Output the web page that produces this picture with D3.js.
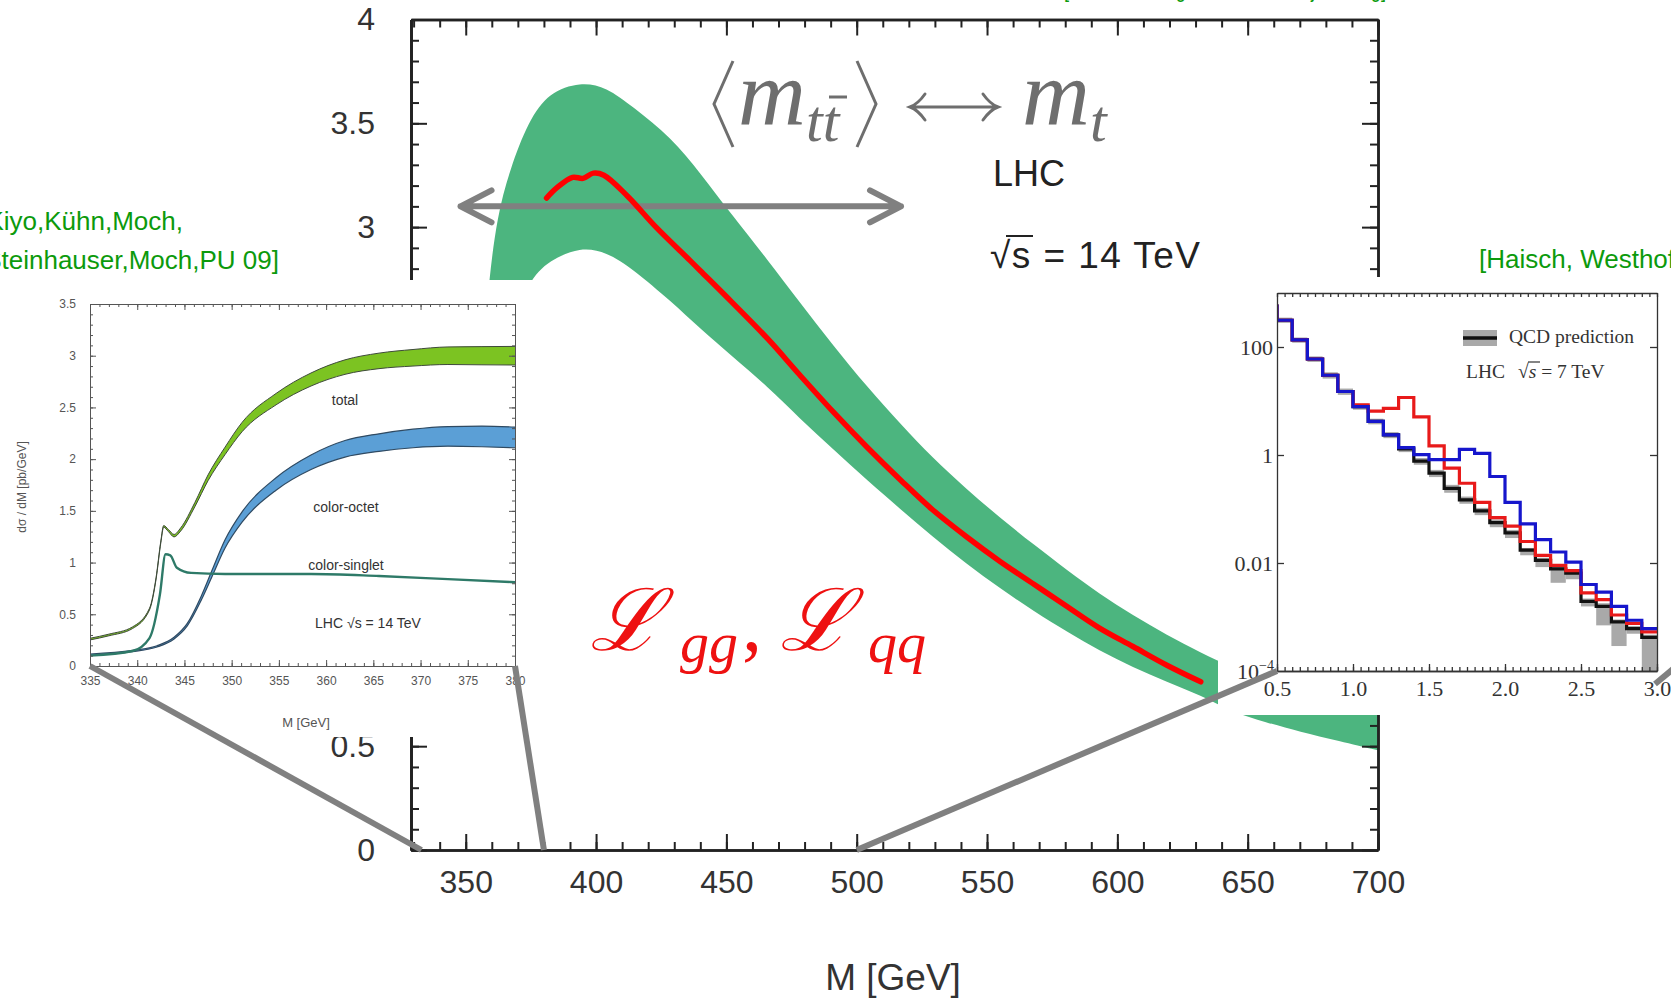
<!DOCTYPE html>
<html>
<head>
<meta charset="utf-8">
<script src="https://cdn.jsdelivr.net/npm/d3@7"></script>
<style>
  body { margin: 0; background: #fff; }
  svg { display: block; }
  .ax path, .ax line { stroke: #222; }
  .ax text { fill: #333; font-family: "Liberation Sans", Arial, sans-serif; }
  .ia path, .ia line { stroke: #555; stroke-width: 1; }
  .ia text { fill: #555; font-family: "Liberation Sans", Arial, sans-serif; font-size: 12px; }
  .ra path, .ra line { stroke: #333; stroke-width: 1.3; }
  .ra text { fill: #333; font-family: "Liberation Serif", "Times New Roman", serif; font-size: 22px; }
</style>
</head>
<body>
<script>
// ---------------- main plot: M [GeV] vs dsigma/dM band ----------------
var bandM  = [357, 359, 362, 367, 374, 382, 394, 404, 414, 429, 440, 452, 466, 478, 491, 504, 517, 529, 542, 555, 568, 581, 593, 606, 619, 632, 644, 657, 670, 685, 700];
var bandHi = [2.45, 2.75, 3.05, 3.28, 3.51, 3.65, 3.70, 3.675, 3.58, 3.43, 3.26, 3.06, 2.84, 2.64, 2.43, 2.23, 2.05, 1.89, 1.74, 1.60, 1.47, 1.345, 1.235, 1.13, 1.035, 0.95, 0.88, 0.815, 0.76, 0.715, 0.67];
var bandLo = [1.90, 2.10, 2.30, 2.50, 2.74, 2.84, 2.905, 2.88, 2.80, 2.64, 2.51, 2.38, 2.23, 2.08, 1.93, 1.78, 1.64, 1.51, 1.38, 1.26, 1.15, 1.05, 0.96, 0.88, 0.81, 0.745, 0.665, 0.615, 0.57, 0.525, 0.48];

var redM = [381, 385, 391, 395, 399, 403, 412, 423, 436, 440, 452, 466, 478, 491, 504, 517, 529, 542, 555, 568, 581, 593, 606, 619, 632];
var redV = [3.14, 3.19, 3.24, 3.235, 3.26, 3.25, 3.15, 3.00, 2.84, 2.79, 2.64, 2.46, 2.29, 2.11, 1.94, 1.78, 1.64, 1.51, 1.39, 1.28, 1.17, 1.07, 0.98, 0.89, 0.81];

var mainXMajor = [350, 400, 450, 500, 550, 600, 650, 700];
var mainYMajor = [0, 0.5, 1, 1.5, 2, 2.5, 3, 3.5, 4];
var mainYLabels = [0, 0.5, 3, 3.5, 4];   // the others sit under the left inset

// ---------------- left inset: threshold region ----------------
var totM  = [335, 337, 339.5, 341.3, 342.0, 342.5, 342.8, 343.3, 343.9, 344.6, 346.1, 347.5, 349.3, 351.1, 354.7, 358.4, 362, 365.6, 369.2, 372.9, 376.5, 380];
var totV  = [0.26, 0.30, 0.37, 0.55, 0.85, 1.20, 1.35, 1.31, 1.26, 1.32, 1.56, 1.82, 2.08, 2.31, 2.58, 2.77, 2.89, 2.95, 2.98, 3.00, 3.00, 3.00];
var totHW = [0.008, 0.008, 0.008, 0.008, 0.008, 0.008, 0.008, 0.01, 0.012, 0.015, 0.02, 0.028, 0.036, 0.045, 0.055, 0.063, 0.07, 0.075, 0.08, 0.085, 0.088, 0.09];

var octM  = [335, 339.5, 342.1, 343.9, 345.3, 346.8, 347.9, 349.3, 351.1, 354.7, 358.4, 362, 365.6, 369.2, 372.9, 376.5, 380];
var octV  = [0.11, 0.145, 0.19, 0.27, 0.40, 0.66, 0.89, 1.18, 1.44, 1.76, 1.97, 2.10, 2.16, 2.20, 2.22, 2.22, 2.21];
var octHW = [0.006, 0.006, 0.006, 0.008, 0.012, 0.02, 0.03, 0.04, 0.05, 0.06, 0.07, 0.08, 0.085, 0.09, 0.095, 0.1, 0.1];

var sinM = [335, 339.5, 341.3, 342.4, 343, 343.5, 344.2, 345.7, 349.3, 358.4, 365.6, 372.9, 380];
var sinV = [0.10, 0.145, 0.27, 0.69, 1.08, 1.07, 0.95, 0.90, 0.89, 0.89, 0.87, 0.84, 0.81];

// ---------------- right inset: log histogram ----------------
var binLo  = [0.4, 0.5, 0.6, 0.7, 0.8, 0.9, 1.0, 1.1, 1.2, 1.3, 1.4, 1.5, 1.6, 1.7, 1.8, 1.9, 2.0, 2.1, 2.2, 2.3, 2.4, 2.5, 2.6, 2.7, 2.8, 2.9, 3.0];
var blueH  = [575, 313, 135, 60, 30, 15, 7.9, 4.2, 2.35, 1.37, 1.02, 0.82, 0.82, 1.27, 1.07, 0.40, 0.133, 0.053, 0.027, 0.016, 0.0104, 0.0040, 0.0029, 0.00157, 0.00087, 0.00061, 0.00061];
var redH   = [575, 313, 135, 60, 30, 15, 8.5, 6.5, 7.3, 11.6, 5.1, 1.47, 0.57, 0.30, 0.133, 0.069, 0.048, 0.025, 0.0139, 0.0090, 0.0072, 0.0028, 0.0021, 0.00109, 0.00076, 0.00053, 0.00053];
var blackH = [575, 313, 135, 60, 30, 15, 7.9, 4.2, 2.35, 1.3, 0.77, 0.46, 0.24, 0.148, 0.092, 0.056, 0.036, 0.0173, 0.0112, 0.0078, 0.0065, 0.00195, 0.00157, 0.00081, 0.00061, 0.00042, 0.00042];
var grayLo = [500, 280, 120, 53, 26, 13, 6.9, 3.7, 2.05, 1.13, 0.66, 0.39, 0.20, 0.125, 0.077, 0.046, 0.029, 0.0139, 0.0084, 0.0043, 0.0050, 0.00157, 0.0007, 0.00029, 0.00049, 0.0001, 0.0001];
var grayHi = [650, 350, 150, 67, 34, 17, 8.9, 4.7, 2.65, 1.47, 0.88, 0.53, 0.28, 0.17, 0.105, 0.064, 0.041, 0.019, 0.0125, 0.0085, 0.0072, 0.0022, 0.0018, 0.0009, 0.00068, 0.00047, 0.00047];
var binW = 0.1;

var W = 1671, H = 999;
var svg = d3.select("body").append("svg").attr("width", W).attr("height", H);
var defs = svg.append("defs");
var SANS = "'Liberation Sans', Arial, sans-serif";
var SERIF = "'Liberation Serif', 'Times New Roman', serif";

// =========================== main plot ===========================
var x = d3.scaleLinear().domain([329, 700]).range([411, 1378]);
var y = d3.scaleLinear().domain([0, 4]).range([850, 19.5]);

defs.append("clipPath").attr("id", "clipMain").append("rect")
    .attr("x", x.range()[0]).attr("y", y.range()[1])
    .attr("width", x.range()[1] - x.range()[0]).attr("height", y.range()[0] - y.range()[1]);

var bandData = bandM.map(function(m, i) { return {m: m, lo: bandLo[i], hi: bandHi[i]}; });
svg.append("path")
    .datum(bandData)
    .attr("clip-path", "url(#clipMain)")
    .attr("fill", "#4cb57f")
    .attr("d", d3.area()
        .x(function(d) { return x(d.m); })
        .y0(function(d) { return y(d.lo); })
        .y1(function(d) { return y(d.hi); })
        .curve(d3.curveBasis));

// axes (ticks point inward)
var xMinor = d3.range(330, 701, 10), yMinor = d3.range(0, 4.001, 0.1);
svg.append("g").attr("class", "ax").attr("transform", "translate(0," + y(0) + ")")
    .call(d3.axisBottom(x).tickValues(xMinor).tickSize(-8).tickSizeOuter(0).tickFormat(""));
svg.append("g").attr("class", "ax xlab").attr("transform", "translate(0," + y(0) + ")")
    .call(d3.axisBottom(x).tickValues(mainXMajor).tickSizeInner(-16).tickSizeOuter(0).tickPadding(20).tickFormat(d3.format("d")));
svg.append("g").attr("class", "ax").attr("transform", "translate(0," + y(4) + ")")
    .call(d3.axisTop(x).tickValues(xMinor).tickSize(-8).tickSizeOuter(0).tickFormat(""));
svg.append("g").attr("class", "ax").attr("transform", "translate(0," + y(4) + ")")
    .call(d3.axisTop(x).tickValues(mainXMajor).tickSize(-16).tickSizeOuter(0).tickFormat(""));
svg.append("g").attr("class", "ax").attr("transform", "translate(" + x(329) + ",0)")
    .call(d3.axisLeft(y).tickValues(yMinor).tickSize(-8).tickSizeOuter(0).tickFormat(""));
svg.append("g").attr("class", "ax").attr("transform", "translate(" + x(329) + ",0)")
    .call(d3.axisLeft(y).tickValues(mainYMajor).tickSize(-16).tickSizeOuter(0).tickFormat(""));
svg.append("g").attr("class", "ax ylab").attr("transform", "translate(" + x(329) + ",0)")
    .call(d3.axisLeft(y).tickValues(mainYLabels).tickSize(0).tickPadding(36).tickFormat(function(d) { return String(d); }));
svg.append("g").attr("class", "ax").attr("transform", "translate(" + x(700) + ",0)")
    .call(d3.axisRight(y).tickValues(yMinor).tickSize(-8).tickSizeOuter(0).tickFormat(""));
svg.append("g").attr("class", "ax").attr("transform", "translate(" + x(700) + ",0)")
    .call(d3.axisRight(y).tickValues(mainYMajor).tickSize(-16).tickSizeOuter(0).tickFormat(""));
svg.selectAll(".ax path").attr("stroke-width", 2.5);
svg.selectAll(".ax line").attr("stroke-width", 2);
svg.selectAll(".xlab text").attr("font-size", 32);
svg.selectAll(".ylab text").attr("font-size", 32);

svg.append("text").attr("x", 893).attr("y", 990).attr("text-anchor", "middle")
    .attr("font-family", SANS).attr("font-size", 37).attr("fill", "#333").text("M [GeV]");

// formula  <m_tt> <-> m_t
var fcol = "#6e6e6e";
svg.append("polyline").attr("points", "733,61 714,104 733,147")
    .attr("fill", "none").attr("stroke", fcol).attr("stroke-width", 3);
svg.append("polyline").attr("points", "857,61 876,104 857,147")
    .attr("fill", "none").attr("stroke", fcol).attr("stroke-width", 3);
svg.append("text").attr("x", 738).attr("y", 125).attr("font-family", SERIF).attr("font-style", "italic")
    .attr("font-size", 94).attr("fill", fcol).text("m");
svg.append("text").attr("x", 806).attr("y", 141).attr("font-family", SERIF).attr("font-style", "italic")
    .attr("font-size", 60).attr("fill", fcol).text("tt");
svg.append("line").attr("x1", 829).attr("x2", 847).attr("y1", 97).attr("y2", 97)
    .attr("stroke", fcol).attr("stroke-width", 3);
svg.append("path")
    .attr("d", "M910,107 L998,107 M925,94 Q918,104 910,107 Q918,110 925,120 M983,94 Q990,104 998,107 Q990,110 983,120")
    .attr("fill", "none").attr("stroke", fcol).attr("stroke-width", 3).attr("stroke-linecap", "round");
svg.append("text").attr("x", 1022).attr("y", 125).attr("font-family", SERIF).attr("font-style", "italic")
    .attr("font-size", 94).attr("fill", fcol).text("m");
svg.append("text").attr("x", 1090).attr("y", 141).attr("font-family", SERIF).attr("font-style", "italic")
    .attr("font-size", 60).attr("fill", fcol).text("t");

svg.append("text").attr("x", 993).attr("y", 186).attr("font-family", SANS).attr("font-size", 36)
    .attr("fill", "#222").text("LHC");
svg.append("text").attr("x", 990).attr("y", 268).attr("font-family", SANS).attr("font-size", 37)
    .attr("textLength", 210).attr("lengthAdjust", "spacing")
    .attr("fill", "#222").text("\u221As = 14 TeV");
svg.append("line").attr("x1", 1006).attr("x2", 1033).attr("y1", 236).attr("y2", 236)
    .attr("stroke", "#222").attr("stroke-width", 2);

// gray double arrow
var arrowFrom = 348, arrowTo = 517, arrowY = 3.1;
svg.append("path")
    .attr("d", "M" + x(arrowFrom) + "," + y(arrowY) + " L" + x(arrowTo) + "," + y(arrowY)
        + " M" + (x(arrowFrom) + 31) + "," + (y(arrowY) - 16) + " L" + x(arrowFrom) + "," + y(arrowY) + " L" + (x(arrowFrom) + 31) + "," + (y(arrowY) + 16)
        + " M" + (x(arrowTo) - 31) + "," + (y(arrowY) - 16) + " L" + x(arrowTo) + "," + y(arrowY) + " L" + (x(arrowTo) - 31) + "," + (y(arrowY) + 16))
    .attr("fill", "none").attr("stroke", "#808080").attr("stroke-width", 6)
    .attr("stroke-linecap", "round").attr("stroke-linejoin", "round");

// red central line
svg.append("path")
    .datum(redM.map(function(m, i) { return [m, redV[i]]; }))
    .attr("fill", "none").attr("stroke", "#ff0000").attr("stroke-width", 5.5).attr("stroke-linecap", "round")
    .attr("d", d3.line().x(function(d) { return x(d[0]); }).y(function(d) { return y(d[1]); }).curve(d3.curveCatmullRom.alpha(0.5)));

// =========================== left inset ===========================
svg.append("rect").attr("x", 0).attr("y", 280).attr("width", 535).attr("height", 457).attr("fill", "#fff");

var xi = d3.scaleLinear().domain([335, 380]).range([90, 515]);
var yi = d3.scaleLinear().domain([0, 3.5]).range([666, 304]);

function bandPath(ms, vs, hw) {
    return d3.area().x(function(d, i) { return xi(ms[i]); })
        .y0(function(d, i) { return yi(vs[i] - hw[i]); })
        .y1(function(d, i) { return yi(vs[i] + hw[i]); })
        .curve(d3.curveMonotoneX)(ms);
}
function edgePath(ms, vs, hw, s) {
    return d3.line().x(function(d, i) { return xi(ms[i]); })
        .y(function(d, i) { return yi(vs[i] + s * hw[i]); })
        .curve(d3.curveMonotoneX)(ms);
}
svg.append("path").attr("d", bandPath(totM, totV, totHW)).attr("fill", "#7cc322");
svg.append("path").attr("d", edgePath(totM, totV, totHW, 1)).attr("fill", "none").attr("stroke", "#3e4a3a").attr("stroke-width", 1);
svg.append("path").attr("d", edgePath(totM, totV, totHW, -1)).attr("fill", "none").attr("stroke", "#3e4a3a").attr("stroke-width", 1);
svg.append("path").attr("d", bandPath(octM, octV, octHW)).attr("fill", "#5b9fd6");
svg.append("path").attr("d", edgePath(octM, octV, octHW, 1)).attr("fill", "none").attr("stroke", "#2f4a62").attr("stroke-width", 1.2);
svg.append("path").attr("d", edgePath(octM, octV, octHW, -1)).attr("fill", "none").attr("stroke", "#2f4a62").attr("stroke-width", 1.2);
svg.append("path")
    .datum(sinM.map(function(m, i) { return [m, sinV[i]]; }))
    .attr("fill", "none").attr("stroke", "#2e7a68").attr("stroke-width", 2.4)
    .attr("d", d3.line().x(function(d) { return xi(d[0]); }).y(function(d) { return yi(d[1]); }).curve(d3.curveMonotoneX));

var xiMinor = d3.range(335, 380.01, 1), xiMajor = d3.range(335, 380.01, 5);
var yiMinor = d3.range(0, 3.501, 0.1), yiMajor = d3.range(0, 3.501, 0.5);
svg.append("g").attr("class", "ia").attr("transform", "translate(0,666)")
    .call(d3.axisBottom(xi).tickValues(xiMinor).tickSize(-3).tickSizeOuter(0).tickFormat(""));
svg.append("g").attr("class", "ia").attr("transform", "translate(0,666)")
    .call(d3.axisBottom(xi).tickValues(xiMajor).tickSizeInner(-6).tickSizeOuter(0).tickPadding(10).tickFormat(d3.format("d")));
svg.append("g").attr("class", "ia").attr("transform", "translate(0,304)")
    .call(d3.axisTop(xi).tickValues(xiMinor).tickSize(-3).tickSizeOuter(0).tickFormat(""));
svg.append("g").attr("class", "ia").attr("transform", "translate(0,304)")
    .call(d3.axisTop(xi).tickValues(xiMajor).tickSize(-6).tickSizeOuter(0).tickFormat(""));
svg.append("g").attr("class", "ia").attr("transform", "translate(90,0)")
    .call(d3.axisLeft(yi).tickValues(yiMinor).tickSize(-3).tickSizeOuter(0).tickFormat(""));
svg.append("g").attr("class", "ia").attr("transform", "translate(90,0)")
    .call(d3.axisLeft(yi).tickValues(yiMajor).tickSizeInner(-6).tickSizeOuter(0).tickPadding(14).tickFormat(function(d) { return String(d); }));
svg.append("g").attr("class", "ia").attr("transform", "translate(515,0)")
    .call(d3.axisRight(yi).tickValues(yiMinor).tickSize(-3).tickSizeOuter(0).tickFormat(""));
svg.append("g").attr("class", "ia").attr("transform", "translate(515,0)")
    .call(d3.axisRight(yi).tickValues(yiMajor).tickSize(-6).tickSizeOuter(0).tickFormat(""));
svg.selectAll(".ia path").attr("stroke-width", 1.6);

var insetText = [["total", 345, 405], ["color-octet", 346, 512], ["color-singlet", 346, 570], ["LHC \u221As = 14 TeV", 368, 628]];
insetText.forEach(function(t) {
    svg.append("text").attr("x", t[1]).attr("y", t[2]).attr("text-anchor", "middle")
        .attr("font-family", SANS).attr("font-size", 14).attr("fill", "#333").text(t[0]);
});
svg.append("text").attr("x", 306).attr("y", 727).attr("text-anchor", "middle")
    .attr("font-family", SANS).attr("font-size", 13).attr("fill", "#555").text("M [GeV]");
svg.append("text").attr("transform", "translate(26,487) rotate(-90)").attr("text-anchor", "middle")
    .attr("font-family", SANS).attr("font-size", 12).attr("fill", "#555").text("d\u03C3 / dM [pb/GeV]");

// =========================== right inset ===========================
svg.append("rect").attr("x", 1218).attr("y", 277).attr("width", 453).attr("height", 438).attr("fill", "#fff");

var xr = d3.scaleLinear().domain([0.5, 3.0]).range([1277, 1657]);
var yr = d3.scaleLog().domain([1e-4, 1e3]).range([671, 293]);

defs.append("clipPath").attr("id", "clipR").append("rect")
    .attr("x", 1277).attr("y", 293).attr("width", 380).attr("height", 378);

var gR = svg.append("g").attr("clip-path", "url(#clipR)");
binLo.forEach(function(b, i) {
    gR.append("rect").attr("x", xr(b)).attr("width", xr(b + binW) - xr(b))
        .attr("y", yr(grayHi[i])).attr("height", yr(grayLo[i]) - yr(grayHi[i]))
        .attr("fill", "#a9a9a9");
});
var step = d3.line().x(function(d) { return xr(d[0]); }).y(function(d) { return yr(d[1]); }).curve(d3.curveStepAfter);
[[blackH, "#111"], [redH, "#e81a1a"], [blueH, "#1616cc"]].forEach(function(s) {
    gR.append("path")
        .datum(binLo.map(function(b, i) { return [b, s[0][i]]; }))
        .attr("fill", "none").attr("stroke", s[1]).attr("stroke-width", 3.2)
        .attr("d", step);
});

svg.append("g").attr("class", "ra").attr("transform", "translate(0,671)")
    .call(d3.axisBottom(xr).tickValues(d3.range(0.5, 3.001, 0.05)).tickSize(-4).tickSizeOuter(0).tickFormat(""));
svg.append("g").attr("class", "ra").attr("transform", "translate(0,671)")
    .call(d3.axisBottom(xr).tickValues([0.5, 1.0, 1.5, 2.0, 2.5, 3.0]).tickSizeInner(-7).tickSizeOuter(0).tickPadding(9).tickFormat(d3.format(".1f")));
svg.append("g").attr("class", "ra").attr("transform", "translate(0,293)")
    .call(d3.axisTop(xr).tickValues(d3.range(0.5, 3.001, 0.05)).tickSize(-4).tickSizeOuter(0).tickFormat(""));
svg.append("g").attr("class", "ra").attr("transform", "translate(1277,0)")
    .call(d3.axisLeft(yr).tickValues([0.01, 1, 100]).tickSizeInner(-7).tickSizeOuter(0).tickPadding(4).tickFormat(d3.format("~g")));
svg.append("g").attr("class", "ra").attr("transform", "translate(1657,0)")
    .call(d3.axisRight(yr).tickValues([0.01, 1, 100]).tickSize(-7).tickSizeOuter(0).tickFormat(""));
var e4 = svg.append("text").attr("x", 1274).attr("y", 679).attr("text-anchor", "end")
    .attr("font-family", SERIF).attr("font-size", 22).attr("fill", "#333");
e4.append("tspan").text("10");
e4.append("tspan").attr("dy", -9).attr("font-size", 14).text("\u22124");

// legend
svg.append("rect").attr("x", 1463).attr("y", 330).attr("width", 34).attr("height", 16).attr("fill", "#a9a9a9");
svg.append("line").attr("x1", 1463).attr("x2", 1497).attr("y1", 338).attr("y2", 338).attr("stroke", "#111").attr("stroke-width", 3.5);
svg.append("text").attr("x", 1509).attr("y", 343).attr("font-family", SERIF).attr("font-size", 19.5)
    .attr("fill", "#333").text("QCD prediction");
var lt = svg.append("text").attr("x", 1466).attr("y", 378).attr("font-family", SERIF).attr("font-size", 19.5).attr("fill", "#333");
lt.append("tspan").text("LHC");
lt.append("tspan").attr("x", 1518).text("\u221A");
lt.append("tspan").attr("font-style", "italic").text("s");
lt.append("tspan").text(" = 7 TeV");
svg.append("line").attr("x1", 1528).attr("x2", 1540).attr("y1", 362).attr("y2", 362).attr("stroke", "#333").attr("stroke-width", 1.2);

// =========================== connectors ===========================
var conn = [[xi(335), yi(0), x(333), y(0)], [xi(380), yi(0), x(380), y(0)], [xr(0.5), yr(1e-4), x(500), y(0)], [1655, 684, 1690, 655]];
conn.forEach(function(c) {
    svg.append("line").attr("x1", c[0]).attr("y1", c[1]).attr("x2", c[2]).attr("y2", c[3])
        .attr("stroke", "#808080").attr("stroke-width", 6);
});

// =========================== parton luminosity label ===========================
var L = svg.append("text").attr("y", 650).attr("fill", "#ee1111");
L.append("tspan").attr("x", 590).attr("font-family", "'DejaVu Serif', serif").attr("font-style", "italic").attr("font-size", 86).text("\u2112");
L.append("tspan").attr("x", 680).attr("dy", 12).attr("font-family", SERIF).attr("font-style", "italic").attr("font-size", 58).text("gg");
L.append("tspan").attr("x", 742).attr("dy", -12).attr("font-family", SERIF).attr("font-size", 80).text(",");
L.append("tspan").attr("x", 780).attr("font-family", "'DejaVu Serif', serif").attr("font-style", "italic").attr("font-size", 86).text("\u2112");
L.append("tspan").attr("x", 868).attr("dy", 12).attr("font-family", SERIF).attr("font-style", "italic").attr("font-size", 58).text("qq");

// =========================== citations ===========================
var green = "#0c9a0c";
svg.append("text").attr("x", 183).attr("y", 230).attr("text-anchor", "end").attr("font-family", SANS)
    .attr("font-size", 26).attr("fill", green).text("[Kiyo,K\u00FChn,Moch,");
svg.append("text").attr("x", 279).attr("y", 269).attr("text-anchor", "end").attr("font-family", SANS)
    .attr("font-size", 26).attr("fill", green).text("Steinhauser,Moch,PU 09]");
svg.append("text").attr("x", 1479).attr("y", 268).attr("font-family", SANS)
    .attr("font-size", 26).attr("fill", green).text("[Haisch, Westhoff 11]");
svg.append("text").attr("x", 1064).attr("y", -3).attr("font-family", SANS)
    .attr("font-size", 22).attr("textLength", 322).attr("lengthAdjust", "spacingAndGlyphs")
    .attr("fill", green).text("[Ahrens,Ferroglia,Neubert,Pecjak,Yang]");
</script>
</body>
</html>
